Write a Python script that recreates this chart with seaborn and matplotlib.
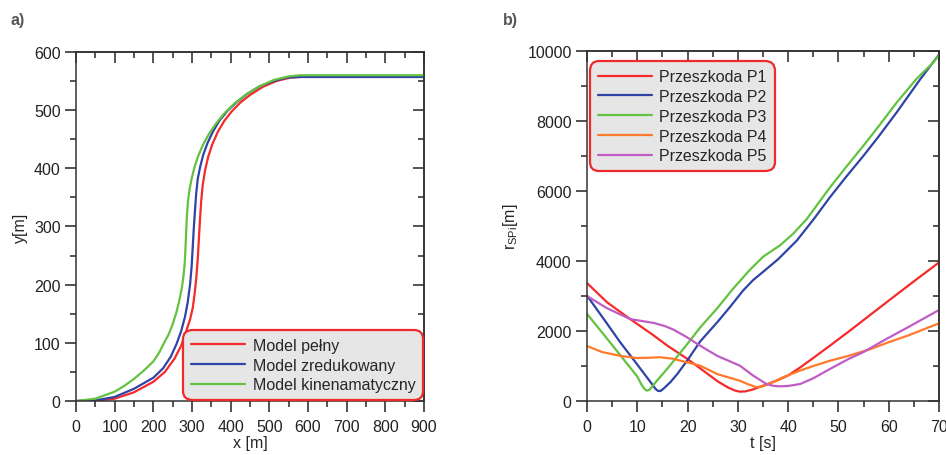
import numpy as np
import pandas as pd
import matplotlib
matplotlib.use("Agg")
import matplotlib.pyplot as plt
from matplotlib.ticker import MultipleLocator
import seaborn as sns

# --- panel a): trajectories y(x) for three models ---
MODELS = ["Model pełny", "Model zredukowany", "Model kinenamatyczny"]

full_x = [0, 50, 100, 150, 200, 230, 255, 272, 285, 295, 302, 307, 311, 315, 318, 321,
          324, 328, 334, 342, 353, 367, 384, 403, 425, 452, 483, 518, 555, 590, 620, 900]
full_y = [0, 0.5, 4, 15, 33, 50, 73, 95, 120, 140, 160, 185, 210, 245, 280, 315,
          345, 372, 397, 420, 442, 463, 482, 498, 513, 527, 540, 550, 556, 557.5, 558, 558]

reduced_x = [0, 50, 100, 150, 200, 225, 245, 260, 272, 282, 289, 295, 299, 302, 305, 308,
             311, 315, 321, 329, 340, 354, 371, 392, 416, 443, 475, 510, 545, 575, 900]
reduced_y = [0, 1, 7, 21, 40, 56, 76, 98, 120, 145, 170, 200, 230, 265, 300, 330,
             357, 382, 402, 423, 443, 463, 482, 499, 514, 528, 541, 550, 556, 557, 557]

kinem_x = [0, 50, 100, 125, 150, 175, 200, 215, 228, 240, 250, 260, 268, 274, 278, 281,
           283, 285, 287, 290, 294, 300, 307, 316, 328, 343, 361, 383, 409, 440, 475, 512,
           550, 580, 900]
kinem_y = [0, 4, 16, 26, 38, 52, 68, 83, 100, 115, 132, 153, 175, 195, 215, 235,
           260, 290, 320, 345, 365, 385, 403, 421, 440, 458, 476, 494, 511, 527, 541, 552,
           558, 560, 560]

# --- panel b): distance to obstacles over time ---
OBSTACLES = ["Przeszkoda P1", "Przeszkoda P2", "Przeszkoda P3", "Przeszkoda P4", "Przeszkoda P5"]

p1_t = [0, 4, 8.6, 13, 16, 20, 23, 26, 28, 29.5, 30.4, 31.5, 33, 34.5, 36, 38, 40, 42.4,
        45, 48.3, 52, 58.3, 64, 70]
p1_r = [3370, 2820, 2340, 1900, 1580, 1200, 880, 560, 390, 295, 267, 275, 330, 410, 490,
        600, 730, 960, 1230, 1580, 1980, 2680, 3310, 3960]

p2_t = [0, 3.3, 6.6, 9.9, 12, 13, 13.6, 14.1, 14.6, 15.2, 16, 16.6, 18, 19.9, 22.5, 25.9,
        28.4, 31, 33, 35.1, 38, 41.7, 45, 48.3, 51.5, 55, 58, 61.6, 66.3, 70]
p2_r = [3010, 2350, 1680, 1060, 660, 470, 350, 290, 285, 350, 460, 540, 780, 1150, 1700,
        2250, 2680, 3150, 3450, 3700, 4050, 4580, 5180, 5820, 6400, 7010, 7560, 8250,
        9200, 9900]

p3_t = [0, 4, 8, 10, 10.8, 11.4, 11.9, 12.4, 13, 13.9, 15.9, 18, 19.9, 22.5, 25.9, 29,
        32.4, 35, 38.4, 41, 43.7, 46, 48.3, 51.5, 55, 58, 61.6, 65.5, 68.9, 70]
p3_r = [2490, 1780, 1060, 700, 480, 350, 295, 320, 420, 580, 910, 1280, 1620, 2100, 2650,
        3200, 3750, 4120, 4450, 4780, 5200, 5650, 6100, 6680, 7300, 7850, 8530, 9200,
        9680, 9890]

p4_t = [0, 3, 6.6, 9.9, 12, 14.6, 17, 19.9, 22.5, 25.9, 28, 30.4, 32, 33.7, 35, 37.1,
        39, 42.4, 45, 48.3, 52, 56.3, 60, 64, 70]
p4_r = [1570, 1400, 1290, 1228, 1235, 1250, 1210, 1105, 1010, 770, 680, 580, 480, 395,
        420, 543, 680, 870, 1000, 1150, 1290, 1480, 1680, 1880, 2220]

p5_t = [0, 4, 8.6, 13.3, 15.5, 17.2, 19.9, 22.5, 25.9, 30.4, 33, 35.7, 37, 38.4, 40,
        42.4, 45, 48.3, 52, 55, 59.5, 64, 70]
p5_r = [3000, 2650, 2340, 2230, 2140, 2040, 1820, 1580, 1290, 1010, 730, 486, 435, 419,
        430, 486, 650, 914, 1200, 1400, 1770, 2120, 2600]

COLORS_A = ["#f52a2a", "#2f44a6", "#63c23f"]
COLORS_B = ["#f52a2a", "#2f44a6", "#63c23f", "#ff7a2a", "#c05cc4"]
FS = 11.5


def long_frame(xs, ys, names, xname, yname):
    parts = []
    for x, y, n in zip(xs, ys, names):
        parts.append(pd.DataFrame({xname: x, yname: y, "series": n}))
    return pd.concat(parts, ignore_index=True)


def style_axes(ax, xmaj, xmin, ymaj, ymin):
    ax.xaxis.set_major_locator(MultipleLocator(xmaj))
    ax.xaxis.set_minor_locator(MultipleLocator(xmin))
    ax.yaxis.set_major_locator(MultipleLocator(ymaj))
    ax.yaxis.set_minor_locator(MultipleLocator(ymin))
    ax.tick_params(which="major", direction="out", length=8, width=1.1, labelsize=FS,
                   colors="#222222", pad=3)
    ax.tick_params(axis="x", which="major", pad=5)
    ax.tick_params(which="minor", direction="out", length=4, width=1.1)
    for s in ax.spines.values():
        s.set_visible(True)
        s.set_linewidth(1.1)
        s.set_color("#333333")
    # mirrored ticks pointing inwards on top and right
    top = ax.secondary_xaxis("top")
    top.xaxis.set_major_locator(MultipleLocator(xmaj))
    top.xaxis.set_minor_locator(MultipleLocator(xmin))
    top.tick_params(which="major", direction="in", length=8, width=1.1, labeltop=False)
    top.tick_params(which="minor", direction="in", length=4, width=1.1)
    top.spines["top"].set_linewidth(1.1)
    right = ax.secondary_yaxis("right")
    right.yaxis.set_major_locator(MultipleLocator(ymaj))
    right.yaxis.set_minor_locator(MultipleLocator(ymin))
    right.tick_params(which="major", direction="in", length=8, width=1.1, labelright=False)
    right.tick_params(which="minor", direction="in", length=4, width=1.1)
    right.spines["right"].set_linewidth(1.1)


def fancy_legend(ax, **kw):
    leg = ax.legend(fancybox=True, framealpha=1, facecolor="#e6e6e6", edgecolor="#ee2a2a",
                    fontsize=FS, handlelength=3.4, handletextpad=0.45, labelspacing=0.3,
                    borderpad=0.5, borderaxespad=0, **kw)
    leg.get_frame().set_linewidth(1.6)
    leg.get_frame().set_boxstyle("round", pad=0.0, rounding_size=0.6)
    return leg


sns.set_style("ticks")
plt.rcParams["font.family"] = ["Liberation Sans", "DejaVu Sans"]
plt.rcParams["mathtext.fontset"] = "custom"
plt.rcParams["mathtext.rm"] = "Liberation Sans"

fig = plt.figure(figsize=(9.46, 4.56), dpi=100)
ax1 = fig.add_axes([0.0803, 0.1184, 0.3679, 0.7654])
ax2 = fig.add_axes([0.6205, 0.1184, 0.3721, 0.7675])

df_a = long_frame([full_x, reduced_x, kinem_x], [full_y, reduced_y, kinem_y], MODELS, "x", "y")
sns.lineplot(data=df_a, x="x", y="y", hue="series", palette=dict(zip(MODELS, COLORS_A)),
             sort=False, estimator=None, linewidth=1.6, ax=ax1)
ax1.set_xlim(0, 900)
ax1.set_ylim(0, 600)
style_axes(ax1, 100, 50, 100, 50)
ax1.set_xlabel("x [m]", fontsize=FS, labelpad=1)
ax1.set_ylabel("y[m]", fontsize=FS, labelpad=4)
fancy_legend(ax1, loc="lower right", bbox_to_anchor=(0.998, 0.002))

df_b = long_frame([p1_t, p2_t, p3_t, p4_t, p5_t], [p1_r, p2_r, p3_r, p4_r, p5_r],
                  OBSTACLES, "t", "r")
sns.lineplot(data=df_b, x="t", y="r", hue="series", palette=dict(zip(OBSTACLES, COLORS_B)),
             sort=False, estimator=None, linewidth=1.6, ax=ax2)
ax2.set_xlim(0, 70)
ax2.set_ylim(0, 10000)
style_axes(ax2, 10, 5, 2000, 1000)
ax2.set_xlabel("t [s]", fontsize=FS, labelpad=1)
ax2.set_ylabel(r"r$_{\mathrm{SPi}}$[m]", fontsize=FS, labelpad=5)
fancy_legend(ax2, loc="upper left", bbox_to_anchor=(0.008, 0.971))

fig.text(0.011, 0.945, "a)", fontsize=11.5, fontweight="bold", color="#555555")
fig.text(0.532, 0.945, "b)", fontsize=11.5, fontweight="bold", color="#555555")

fig.savefig("out.png", dpi=100)
